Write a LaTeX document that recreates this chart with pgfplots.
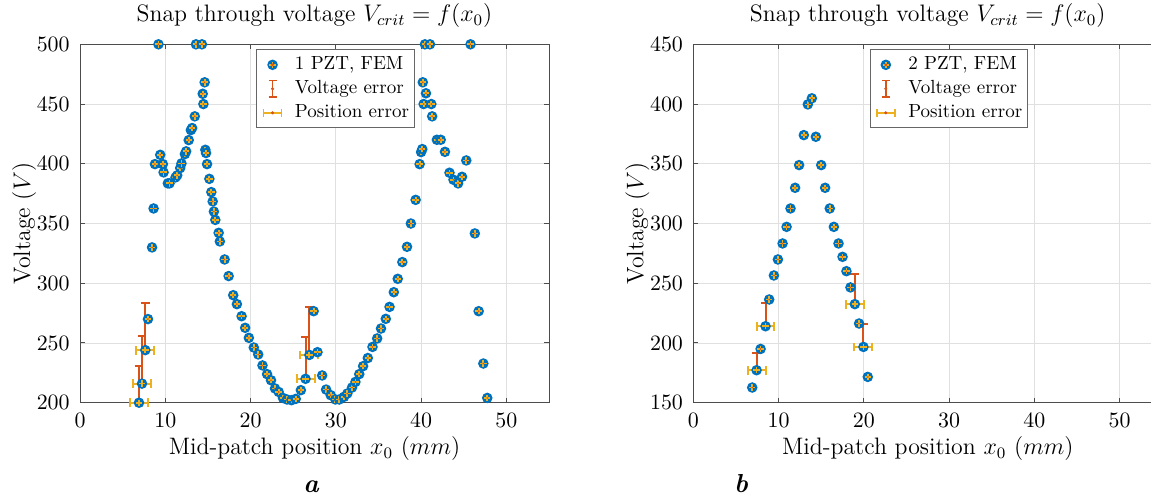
\documentclass[border=0pt]{standalone}
\usepackage{pgfplots}
\pgfplotsset{compat=1.18}
\usepackage{pgfplotstable}
\definecolor{mblue}{rgb}{0,0.447,0.741}
\definecolor{morange}{rgb}{0.85,0.325,0.098}
\definecolor{myellow}{rgb}{0.929,0.694,0.125}

\pgfdeclareplotmark{fem}{%
  \pgfsetfillcolor{mblue}%
  \pgfpathcircle{\pgfpointorigin}{2.65pt}%
  \pgfusepath{fill}%
  \pgfsetstrokecolor{myellow}%
  \pgfsetlinewidth{0.9pt}%
  \pgfpathmoveto{\pgfqpoint{-1.6pt}{0pt}}\pgfpathlineto{\pgfqpoint{1.6pt}{0pt}}%
  \pgfpathmoveto{\pgfqpoint{0pt}{-1.6pt}}\pgfpathlineto{\pgfqpoint{0pt}{1.6pt}}%
  \pgfusepath{stroke}%
  \pgfsetfillcolor{morange}%
  \pgfpathcircle{\pgfpointorigin}{0.45pt}%
  \pgfusepath{fill}%
}

\pgfplotstableread{
x y
6.92 200
7.27 216
7.66 244
7.97 270
8.45 330
8.63 362.6
8.79 399.7
9.2 500
9.41 407.5
9.72 399.7
9.8 392.8
10.3 383.6
10.5 383.6
11.2 388.6
11.4 390.3
11.75 396.4
11.9 400.3
12.3 408.1
12.45 410.4
12.75 419.8
13.0 428.2
13.15 429.9
13.46 439.7
13.6 500
14.3 500
14.39 458.6
14.47 450
14.62 468.2
14.7 411.7
14.78 409
14.9 399.7
15.17 387.4
15.4 376.3
15.56 368.5
15.7 360
15.87 353
16.26 342.2
16.4 335
16.96 319.9
17.43 306
17.97 290
18.4 282.5
18.95 272.4
19.37 262.7
19.8 254.3
20.38 246.2
20.9 240.4
21.4 231.2
21.94 223.9
22.4 218.8
22.87 211.9
23.3 209
23.8 204
24.27 202.7
24.8 202.1
25.3 203.2
25.9 210.5
26.45 220
26.9 240
27.4 276.6
27.85 242.3
28.4 222.8
28.86 211
29.4 206.3
29.95 202.7
30.4 202.7
30.96 204.9
31.35 207.7
31.9 212.7
32.3 217.4
32.75 223.9
33.2 230.6
33.75 237.4
34.3 246.7
34.85 253.8
35.3 262.1
35.86 270.2
36.3 280.2
36.8 292.5
37.26 303.7
37.8 317.7
38.35 330.5
38.8 350
39.36 369.8
39.83 399.7
40.0 409.8
40.14 412.3
40.2 468.2
40.3 450
40.45 500
40.57 459
41.04 500
41.2 450
41.3 439.7
41.85 420.1
42.3 420.1
42.8 410
43.33 392.5
43.8 386.6
44.34 383.6
44.8 389.1
45.3 402.8
45.8 500
46.3 341.7
46.75 276.6
47.3 232.8
47.76 204
}\femA

\pgfplotstableread{
x y ey ex
6.92 200 30.6 1.05
7.27 216 39.6 1.05
7.66 244 39.6 1.05
26.45 220 35 1.05
26.9 240 40 1.05
}\errA

\pgfplotstableread{
x y
6.91 162.7
7.42 177.2
7.89 195
8.47 214
8.9 236.4
9.45 256.5
9.92 269.9
10.47 283.3
10.94 297.2
11.4 312.6
11.94 329.9
12.41 348.9
12.96 374
13.43 399.7
13.9 404.8
14.37 372.6
15.0 348.9
15.46 329.9
16.0 312.6
16.48 297.2
17.03 283.3
17.5 272.1
17.96 260.1
18.43 246.5
18.94 232.5
19.44 216.3
19.95 196.7
20.46 171.6
}\femB

\pgfplotstableread{
x y ey ex
7.42 177.2 14.5 1.05
8.47 214 19.6 1.05
18.94 232.5 25 1.05
19.95 196.7 19.6 1.05
}\errB

\pgfplotsset{
  mstyle/.style={
    scale only axis,
    width=234.5pt, height=179.2pt,
    anchor=south west,
    clip=false,
    xmin=0, xmax=55,
    xtick={0,10,20,30,40,50},
    grid=major,
    major grid style={black!12, line width=0.4pt},
    axis line style={black!70, line width=0.5pt},
    tick style={black!70, line width=0.5pt},
    tick align=inside,
    major tick length=2.3pt,
    tick label style={font=\fontsize{11}{13}\selectfont},
    xticklabel style={anchor=base, yshift=-12.2pt, inner sep=0pt},
    yticklabel style={anchor=east, xshift=-5pt, inner sep=0pt},
    title style={font=\fontsize{11.9}{14}\selectfont, at={(0.5,1)}, anchor=base, yshift=5.4pt},
    xlabel style={font=\fontsize{11.9}{14}\selectfont, at={(0.5,0)}, anchor=base, yshift=-26pt},
    ylabel style={font=\fontsize{11.9}{14}\selectfont, at={(axis description cs:-0.1066,0.5)}, anchor=base},
    title={Snap through voltage $V_{crit} = f(x_0)$},
    xlabel={Mid-patch position $x_0$ $(mm)$},
    ylabel={Voltage $(V)$},
    legend cell align=left,
    legend style={at={(0.714,0.986)}, anchor=north east, draw=black!60, line width=0.5pt,
      fill=white, inner xsep=1.5pt, inner ysep=1.5pt, row sep=0pt,
      font=\fontsize{9.5}{11}\selectfont,
      nodes={inner sep=1.2pt, text height=7pt, text depth=2.6pt}},
  },
  verr/.style={only marks, mark=*, mark size=0.45pt, color=morange,
    error bars/.cd, y dir=plus, y explicit, error mark=|,
    error bar style={draw=morange, line width=1pt, solid},
    error mark options={draw=morange, line width=1pt, mark size=2.2pt, solid}},
  herr/.style={only marks, mark=+, mark size=1.6pt, color=myellow, mark options={line width=0.9pt},
    error bars/.cd, x dir=both, x explicit, error mark=|,
    error bar style={draw=myellow, line width=1pt, solid},
    error mark options={draw=myellow, line width=1pt, mark size=2.2pt, solid}},
  femleg/.style={legend image code/.code={%
    \path[draw=none, fill=none] (0.3cm-6.3pt,0) -- (0.3cm+10pt,0);
    \pgfpathcircle{\pgfqpoint{0.3cm}{0pt}}{2.65pt}\pgfsetfillcolor{mblue}\pgfusepath{fill}
    \draw[myellow, line width=0.9pt] (0.3cm-1.6pt,0) -- (0.3cm+1.6pt,0) (0.3cm,-1.6pt) -- (0.3cm,1.6pt);
    \fill[morange] (0.3cm,0) circle (0.45pt);}},
  vleg/.style={legend image code/.code={%
    \path[draw=none, fill=none] (0.3cm-6.3pt,0) -- (0.3cm+10pt,0);
    \draw[morange, line width=0.9pt] (0.3cm,-4.2pt) -- (0.3cm,4.2pt)
      (0.3cm-2pt,-4.2pt) -- (0.3cm+2pt,-4.2pt) (0.3cm-2pt,4.2pt) -- (0.3cm+2pt,4.2pt);
    \fill[morange] (0.3cm,0) circle (0.5pt);}},
  hleg/.style={legend image code/.code={%
    \path[draw=none, fill=none] (0.3cm-6.3pt,0) -- (0.3cm+10pt,0);
    \draw[myellow, line width=0.9pt] (0.3cm-4.5pt,0) -- (0.3cm+4.5pt,0)
      (0.3cm-4.5pt,-2pt) -- (0.3cm-4.5pt,2pt) (0.3cm+4.5pt,-2pt) -- (0.3cm+4.5pt,2pt);
    \fill[morange] (0.3cm,0) circle (0.5pt);}},
}

\begin{document}
\begin{tikzpicture}
\begin{axis}[mstyle, at={(40pt,48.65pt)}, ymin=200, ymax=500, ytick={200,250,...,500}]
\addplot[femleg, only marks, mark=fem] table[x=x,y=y] {\femA};
\addlegendentry{1 PZT, FEM}
\addplot[vleg, verr] table[x=x,y=y,y error=ey] {\errA};
\addlegendentry{Voltage error}
\addplot[hleg, herr] table[x=x,y=y,x error=ex] {\errA};
\addlegendentry{Position error}
\end{axis}
\begin{axis}[mstyle, at={(346.65pt,48.65pt)}, ymin=150, ymax=450, ytick={150,200,...,450}]
\addplot[femleg, only marks, mark=fem] table[x=x,y=y] {\femB};
\addlegendentry{2 PZT, FEM}
\addplot[vleg, verr] table[x=x,y=y,y error=ey] {\errB};
\addlegendentry{Voltage error}
\addplot[hleg, herr] table[x=x,y=y,x error=ex] {\errB};
\addlegendentry{Position error}
\end{axis}
\node[anchor=base, font=\fontsize{13}{15}\selectfont\bfseries\itshape] at (155.5pt,4pt) {a};
\node[anchor=base, font=\fontsize{13}{15}\selectfont\bfseries\itshape] at (370.5pt,4pt) {b};
\pgfresetboundingbox
\useasboundingbox (0,0) rectangle (575.5pt,250pt);
\end{tikzpicture}
\end{document}
